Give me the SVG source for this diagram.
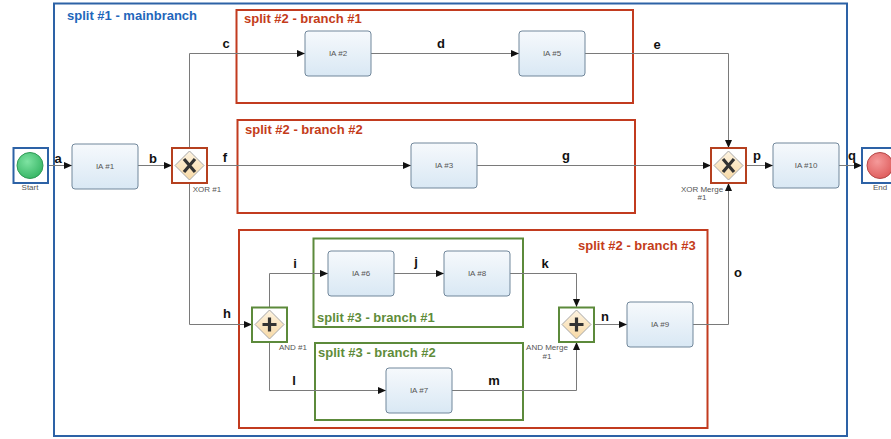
<svg xmlns="http://www.w3.org/2000/svg" width="891" height="439" viewBox="0 0 891 439">
  <defs>
    <linearGradient id="taskFill" x1="0" y1="0" x2="0" y2="1">
      <stop offset="0" stop-color="#f6f9fc"/>
      <stop offset="1" stop-color="#d9e8f4"/>
    </linearGradient>
    <linearGradient id="gwFill" x1="0" y1="0" x2="0" y2="1">
      <stop offset="0" stop-color="#fdf3e0"/>
      <stop offset="1" stop-color="#f7d9a6"/>
    </linearGradient>
    <radialGradient id="startFill" cx="0.4" cy="0.35" r="0.7">
      <stop offset="0" stop-color="#7ee3a2"/>
      <stop offset="1" stop-color="#35b463"/>
    </radialGradient>
    <radialGradient id="endFill" cx="0.4" cy="0.35" r="0.7">
      <stop offset="0" stop-color="#f59a9a"/>
      <stop offset="1" stop-color="#de5b5b"/>
    </radialGradient>
    <marker id="arrow" markerWidth="8" markerHeight="7" refX="8" refY="3.5" orient="auto" markerUnits="userSpaceOnUse">
      <path d="M0,0 L8,3.5 L0,7 z" fill="#111"/>
    </marker>
  </defs>
  <style>
    .frame { fill: none; stroke-width: 2; }
    .f-blue { stroke: #2d62a6; }
    .f-red { stroke: #c23b1f; }
    .f-green { stroke: #5c8a3b; }
    .flabel { font-family: "Liberation Sans", Arial, sans-serif; font-weight: bold; font-size: 13px; }
    .t-blue { fill: #2266bb; }
    .t-red { fill: #c43c1a; }
    .t-green { fill: #5f8c3a; }
    .task rect { fill: url(#taskFill); stroke: #71879b; stroke-width: 1; }
    .task text, .small { font-family: "Liberation Sans", Arial, sans-serif; font-size: 8px; fill: #555; text-anchor: middle; }
    .edge { fill: none; stroke: #7a7a7a; stroke-width: 1; marker-end: url(#arrow); }
    .elabel { font-family: "Liberation Sans", Arial, sans-serif; font-weight: bold; font-size: 13px; fill: #111; text-anchor: middle; }
    .gw-diamond { fill: url(#gwFill); stroke: #a8a8a8; stroke-width: 1; }
    .gw-xor .box { fill: none; stroke: #b5401f; stroke-width: 2; }
    .gw-and .box { fill: none; stroke: #5c8a3b; stroke-width: 2; }
    .mark { stroke: #333; stroke-width: 3.2; stroke-linecap: butt; fill: none; }
    .evbox { fill: none; stroke: #2d62a6; stroke-width: 2; }
  </style>

  <!-- swimlane-style frames -->
  <g id="frames">
    <rect class="frame f-blue" x="54" y="3.5" width="793" height="432.5"/>
    <text class="flabel t-blue" x="67" y="20">split #1 - mainbranch</text>
    <rect class="frame f-red" x="236.5" y="10" width="396.5" height="93"/>
    <text class="flabel t-red" x="244" y="23">split #2 - branch #1</text>
    <rect class="frame f-red" x="237.5" y="120" width="397.5" height="93"/>
    <text class="flabel t-red" x="245" y="134">split #2 - branch #2</text>
    <rect class="frame f-red" x="239" y="230" width="468.5" height="198"/>
    <text class="flabel t-red" x="578" y="250">split #2 - branch #3</text>
    <rect class="frame f-green" x="313.5" y="238.5" width="209.5" height="88.5"/>
    <text class="flabel t-green" x="317" y="322">split #3 - branch #1</text>
    <rect class="frame f-green" x="315" y="343" width="208" height="77"/>
    <text class="flabel t-green" x="318" y="357">split #3 - branch #2</text>
  </g>

  <!-- sequence flows -->
  <g id="connectors">
    <path class="edge" d="M48 165.5 H72"/>
    <path class="edge" d="M138 165.5 H172"/>
    <path class="edge" d="M189.5 148 V53.5 H305"/>
    <path class="edge" d="M371 53.5 H519"/>
    <path class="edge" d="M585 53.5 H728.5 V148"/>
    <path class="edge" d="M207 165.5 H411"/>
    <path class="edge" d="M477 165.5 H711"/>
    <path class="edge" d="M746 165.5 H773"/>
    <path class="edge" d="M839 165.5 H862"/>
    <path class="edge" d="M189.5 183 V324.5 H252"/>
    <path class="edge" d="M269.5 307 V273.5 H328"/>
    <path class="edge" d="M394 273.5 H444"/>
    <path class="edge" d="M510 273.5 H576.5 V307"/>
    <path class="edge" d="M269.5 342 V390.5 H386"/>
    <path class="edge" d="M452 390.5 H576.5 V342"/>
    <path class="edge" d="M594 324.5 H627"/>
    <path class="edge" d="M693 324.5 H728.5 V183"/>
    <text class="elabel" x="58" y="163">a</text>
    <text class="elabel" x="153" y="163">b</text>
    <text class="elabel" x="226" y="48">c</text>
    <text class="elabel" x="441" y="48">d</text>
    <text class="elabel" x="657" y="49">e</text>
    <text class="elabel" x="225" y="162">f</text>
    <text class="elabel" x="566" y="160">g</text>
    <text class="elabel" x="757" y="160">p</text>
    <text class="elabel" x="852" y="160">q</text>
    <text class="elabel" x="227" y="318">h</text>
    <text class="elabel" x="295" y="268">i</text>
    <text class="elabel" x="416" y="266">j</text>
    <text class="elabel" x="545" y="268">k</text>
    <text class="elabel" x="294" y="385">l</text>
    <text class="elabel" x="494" y="385">m</text>
    <text class="elabel" x="605" y="321">n</text>
    <text class="elabel" x="738" y="277">o</text>
  </g>

  <!-- events -->
  <g id="start">
    <rect class="evbox" x="13.5" y="148" width="34.5" height="35"/>
    <circle cx="30" cy="165.5" r="13" fill="url(#startFill)" stroke="#2e9a55" stroke-width="1"/>
    <text class="small" x="30" y="190">Start</text>
  </g>
  <g id="end">
    <rect class="evbox" x="862" y="148" width="35" height="35"/>
    <circle cx="880" cy="165.5" r="13" fill="url(#endFill)" stroke="#b54848" stroke-width="1"/>
    <text class="small" x="880" y="190">End</text>
  </g>

  <!-- activities -->
  <g id="ia1" class="task"><rect x="72" y="144" width="66" height="45" rx="3"/><text x="105" y="169">IA #1</text></g>
  <g id="ia2" class="task"><rect x="305" y="31" width="66" height="45" rx="3"/><text x="338" y="56">IA #2</text></g>
  <g id="ia5" class="task"><rect x="519" y="31" width="66" height="45" rx="3"/><text x="552" y="56">IA #5</text></g>
  <g id="ia3" class="task"><rect x="411" y="143" width="66" height="45" rx="3"/><text x="444" y="168">IA #3</text></g>
  <g id="ia10" class="task"><rect x="773" y="143" width="66" height="45" rx="3"/><text x="806" y="168">IA #10</text></g>
  <g id="ia6" class="task"><rect x="328" y="251" width="66" height="45" rx="3"/><text x="361" y="276">IA #6</text></g>
  <g id="ia8" class="task"><rect x="444" y="251" width="66" height="45" rx="3"/><text x="477" y="276">IA #8</text></g>
  <g id="ia7" class="task"><rect x="386" y="368" width="66" height="45" rx="3"/><text x="419" y="393">IA #7</text></g>
  <g id="ia9" class="task"><rect x="627" y="302" width="66" height="45" rx="3"/><text x="660" y="327">IA #9</text></g>

  <!-- gateways -->
  <g id="xor1" class="gw-xor">
    <rect class="box" x="172" y="148" width="35" height="35"/>
    <path class="gw-diamond" d="M189.5 151 L204 165.5 L189.5 180 L175 165.5 Z"/>
    <path class="mark" d="M184 159 L195 172 M195 159 L184 172"/>
    <text class="small" x="207" y="192">XOR #1</text>
  </g>
  <g id="xorMerge" class="gw-xor">
    <rect class="box" x="711" y="148" width="35" height="35"/>
    <path class="gw-diamond" d="M728.5 151 L743 165.5 L728.5 180 L714 165.5 Z"/>
    <path class="mark" d="M723 159 L734 172 M734 159 L723 172"/>
    <text class="small" x="702" y="192">XOR Merge</text>
    <text class="small" x="702" y="200">#1</text>
  </g>
  <g id="and1" class="gw-and">
    <rect class="box" x="252" y="307.5" width="35" height="34.5"/>
    <path class="gw-diamond" d="M269.5 310 L284 324.5 L269.5 339 L255 324.5 Z"/>
    <path class="mark" d="M269.5 317.5 V331.5 M262.5 324.5 H276.5"/>
    <text class="small" x="293" y="350">AND #1</text>
  </g>
  <g id="andMerge" class="gw-and">
    <rect class="box" x="559" y="307.5" width="35" height="34.5"/>
    <path class="gw-diamond" d="M576.5 310 L591 324.5 L576.5 339 L562 324.5 Z"/>
    <path class="mark" d="M576.5 317.5 V331.5 M569.5 324.5 H583.5"/>
    <text class="small" x="547" y="350">AND Merge</text>
    <text class="small" x="547" y="359">#1</text>
  </g>
</svg>
